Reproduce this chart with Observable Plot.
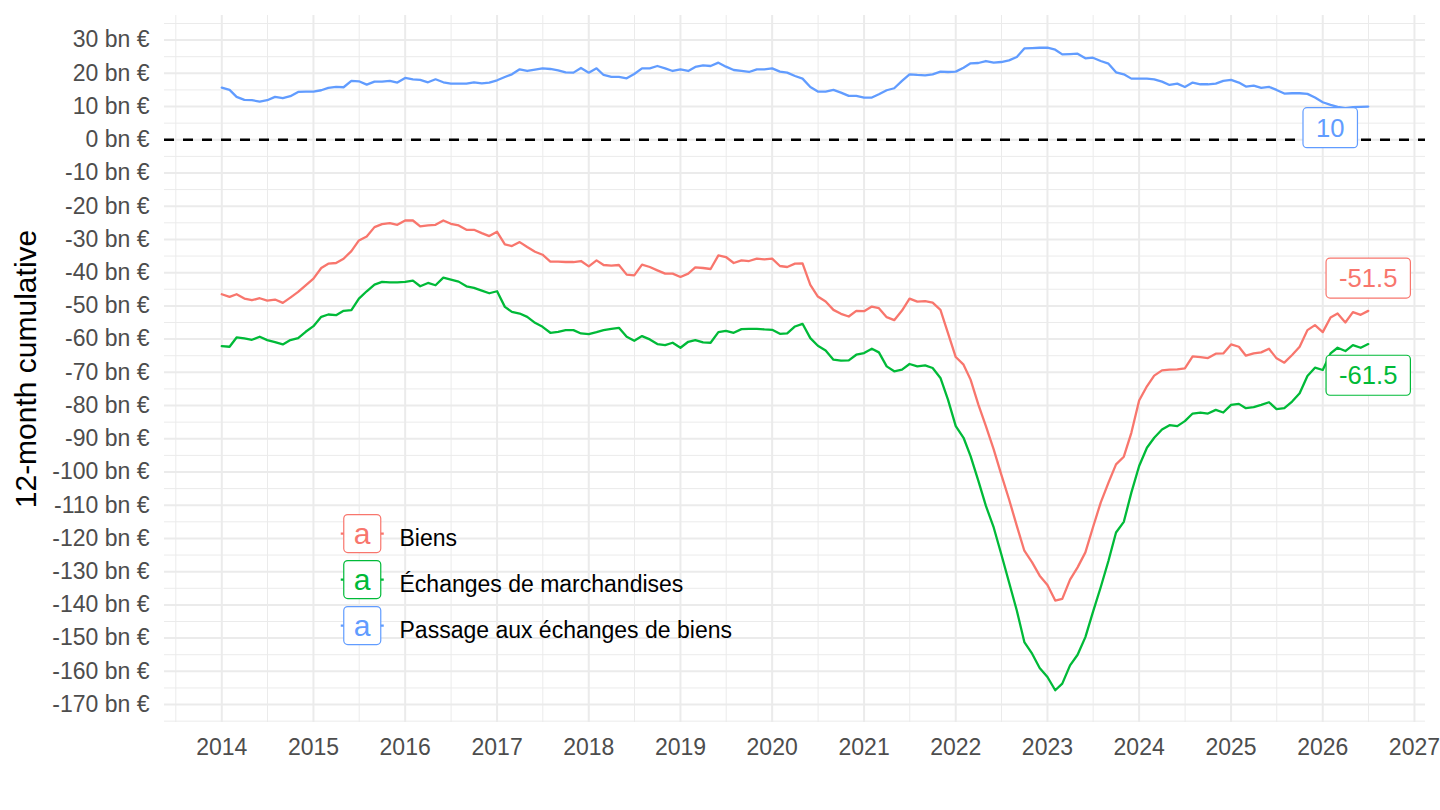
<!DOCTYPE html>
<html><head><meta charset="utf-8">
<script src="https://cdn.jsdelivr.net/npm/d3@7"></script>
<script src="https://cdn.jsdelivr.net/npm/@observablehq/plot@0.6"></script>
<style>body{margin:0;background:#fff} #chart svg{display:block}</style>
</head><body><div id="chart"></div>
<script>
// ---------- DATA ----------
const seriesNames = ["Biens", "Échanges de marchandises", "Passage aux échanges de biens"];
const seriesColors = ["#F8766D", "#00BA38", "#619CFF"];
const firstMonth = "2014-01-01";
const lastMonth = "2026-07-01";

const biens = [
  -46.5, -47.3, -46.5, -47.8, -48.3, -47.7, -48.4, -48.1, -49.1, -47.5, -45.8, -43.8,
  -41.8, -38.6, -37.3, -37.1, -35.8, -33.5, -30.3, -29.1, -26.3, -25.4, -25.1, -25.6,
  -24.3, -24.3, -26.1, -25.8, -25.6, -24.3, -25.3, -25.8, -27.1, -27.1, -28.1, -29.0,
  -27.7, -31.5, -32.0, -30.8, -32.3, -33.7, -34.6, -36.7, -36.7, -36.8, -36.8, -36.5,
  -38.1, -36.3, -37.7, -37.9, -37.7, -40.6, -40.8, -37.6, -38.3, -39.3, -40.3, -40.3,
  -41.3, -40.3, -38.4, -38.6, -38.9, -34.8, -35.3, -37.1, -36.3, -36.5, -35.8, -36.0,
  -35.8, -38.0, -38.3, -37.3, -37.2, -43.7, -47.2, -48.7, -51.2, -52.4, -53.2, -51.5,
  -51.6, -50.2, -50.7, -53.4, -54.3, -51.4, -47.8, -48.7, -48.6, -49.0, -51.2, -58.2,
  -65.4, -67.7, -72.2, -79.7, -86.2, -93.2, -100.7, -108.2, -116.2, -123.7, -127.2, -131.2,
  -134.0, -138.7, -138.2, -132.4, -128.7, -124.2, -116.7, -109.2, -103.2, -97.7, -95.4, -88.2,
  -78.5, -74.2, -71.0, -69.4, -69.2, -69.1, -68.8, -65.2, -65.4, -65.7, -64.4, -64.3,
  -61.6, -62.3, -65.0, -64.3, -64.0, -62.9, -65.8, -67.1, -64.8, -62.3, -57.3, -55.8,
  -57.9, -53.5, -52.3, -55.0, -51.9, -52.7, -51.5
];
const marchandises = [
  -62.1, -62.3, -59.5, -59.8, -60.2, -59.3, -60.3, -60.9, -61.6, -60.3, -59.7, -57.8,
  -56.1, -53.3, -52.6, -52.8, -51.5, -51.3, -47.8, -45.6, -43.6, -42.8, -42.9, -42.9,
  -42.8, -42.4, -44.1, -43.1, -43.8, -41.5, -42.1, -42.7, -44.1, -44.6, -45.4, -46.2,
  -45.6, -50.3, -51.8, -52.3, -53.3, -55.1, -56.3, -58.1, -57.8, -57.3, -57.3, -58.3,
  -58.5, -57.9, -57.3, -56.9, -56.6, -59.3, -60.5, -59.1, -60.1, -61.5, -61.8, -61.1,
  -62.6, -60.8, -60.3, -61.0, -61.1, -57.9, -57.5, -58.1, -57.0, -56.9, -56.9, -57.1,
  -57.2, -58.4, -58.3, -56.2, -55.4, -59.7, -62.0, -63.4, -66.2, -66.5, -66.4, -64.7,
  -64.2, -62.9, -64.0, -68.2, -69.7, -69.2, -67.5, -68.2, -67.9, -68.7, -71.7, -78.2,
  -86.2, -89.7, -95.2, -102.7, -110.2, -116.7, -124.7, -133.2, -141.7, -151.2, -154.7, -159.0,
  -161.7, -165.7, -163.7, -158.2, -155.0, -149.7, -142.2, -134.7, -126.7, -118.2, -115.0, -106.2,
  -98.2, -92.7, -89.7, -87.2, -85.9, -86.2, -84.7, -82.4, -82.1, -82.4, -81.3, -82.1,
  -79.8, -79.5, -80.8, -80.5, -79.8, -79.0, -81.1, -80.8, -78.8, -76.3, -71.1, -68.6,
  -69.3, -64.3, -62.6, -63.6, -61.8, -62.6, -61.5
];
const passage = [
  15.7, 15.0, 12.9, 12.0, 11.9, 11.5, 11.9, 12.9, 12.5, 13.1, 14.4, 14.5,
  14.5, 14.9, 15.6, 15.9, 15.8, 17.7, 17.6, 16.6, 17.5, 17.5, 17.7, 17.2,
  18.6, 18.2, 18.0, 17.3, 18.2, 17.3, 16.9, 16.9, 16.9, 17.3, 17.0, 17.2,
  17.9, 18.9, 19.7, 21.2, 20.7, 21.1, 21.5, 21.3, 20.9, 20.3, 20.2, 21.6,
  20.2, 21.5, 19.5, 18.9, 18.9, 18.5, 19.8, 21.5, 21.5, 22.2, 21.5, 20.7,
  21.2, 20.7, 21.9, 22.4, 22.2, 23.2, 22.0, 21.0, 20.7, 20.4, 21.2, 21.2,
  21.5, 20.5, 20.2, 19.2, 18.4, 15.9, 14.5, 14.5, 15.0, 14.2, 13.2, 13.2,
  12.7, 12.7, 13.7, 14.9, 15.5, 17.7, 19.7, 19.5, 19.4, 19.7, 20.5, 20.4,
  20.5, 21.7, 23.0, 23.1, 23.7, 23.2, 23.4, 23.9, 24.9, 27.5, 27.6, 27.7,
  27.7, 27.1, 25.7, 25.8, 25.9, 24.5, 24.7, 23.7, 22.9, 20.3, 19.7, 18.4,
  18.4, 18.4, 18.2, 17.5, 16.5, 16.9, 15.9, 17.2, 16.7, 16.7, 16.9, 17.7,
  18.0, 17.2, 16.0, 16.3, 15.6, 15.9, 15.0, 13.9, 14.0, 14.0, 13.8, 12.7,
  11.3, 10.5, 9.9, 9.5, 9.8, 9.9, 10.0
];

const yTicks = [-170, -160, -150, -140, -130, -120, -110, -100, -90, -80, -70, -60, -50, -40, -30, -20, -10, 0, 10, 20, 30];
const yMinorTicks = [-175, -165, -155, -145, -135, -125, -115, -105, -95, -85, -75, -65, -55, -45, -35, -25, -15, -5, 5, 15, 25, 35];
const xTickYears = [2014, 2015, 2016, 2017, 2018, 2019, 2020, 2021, 2022, 2023, 2024, 2025, 2026, 2027];
const xMinorYears = [2013, 2014, 2015, 2016, 2017, 2018, 2019, 2020, 2021, 2022, 2023, 2024, 2025, 2026];
const yTitle = "12-month cumulative";
const yUnit = "bn €";

// ---------- BUILD ----------
const months = d3.utcMonth.range(new Date(firstMonth), d3.utcMonth.offset(new Date(lastMonth), 1));
const seriesValues = [biens, marchandises, passage];
const rows = seriesNames.flatMap((s, k) => seriesValues[k].map((v, i) => ({date: months[i], value: v, series: s})));
const lastRows = seriesNames.map((s, k) => ({date: months[months.length - 1], value: seriesValues[k][seriesValues[k].length - 1], series: s}));

const xMajor = xTickYears.map(y => new Date(Date.UTC(y, 0, 1)));
const xMinor = xMinorYears.map(y => new Date(Date.UTC(y, 6, 2)));
const xDomain = [new Date(Date.UTC(2013, 4, 18)), new Date(Date.UTC(2027, 1, 14))];

const FONT = "'Liberation Sans', Arial, Helvetica, sans-serif";
const labelOffsets = [{dx: 0, dy: -32}, {dx: 0, dy: 32}, {dx: -38, dy: 22}];

const marks = [
  Plot.ruleY(yMinorTicks, {stroke: "#ebebeb", strokeWidth: 1}),
  Plot.ruleX(xMinor, {stroke: "#ebebeb", strokeWidth: 1}),
  Plot.ruleY(yTicks, {stroke: "#ebebeb", strokeWidth: 2}),
  Plot.ruleX(xMajor, {stroke: "#ebebeb", strokeWidth: 2}),
  Plot.ruleY([0], {stroke: "#000", strokeWidth: 2.5, strokeDasharray: "10,9"}),
  Plot.line(rows, {x: "date", y: "value", z: "series", stroke: "series", strokeWidth: 2.3})
];
seriesNames.forEach((s, k) => {
  marks.push(Plot.text([lastRows[k]], {
    x: "date", y: "value", text: d => String(d.value),
    fill: seriesColors[k], fontSize: 25.6, dx: labelOffsets[k].dx, dy: labelOffsets[k].dy,
    textAnchor: "middle", lineAnchor: "middle",
    ariaDescription: "endlabel"
  }));
  marks.push(Plot.text(["a"], {
    text: d => d, frameAnchor: "top-left", dx: 197.6, dy: 534 - 15 + k * 46,
    textAnchor: "middle", lineAnchor: "middle",
    fill: seriesColors[k], fontSize: 30, ariaDescription: "legendkey"
  }));
  marks.push(Plot.text([s], {
    text: d => d, frameAnchor: "top-left", dx: 235, dy: 538 - 15 + k * 46,
    textAnchor: "start", lineAnchor: "middle", fill: "#000", fontSize: 23
  }));
});
marks.push(Plot.text([yTitle], {
  text: d => d, frameAnchor: "left", rotate: -90, dx: -138,
  textAnchor: "middle", lineAnchor: "middle", fill: "#000", fontSize: 30
}));

const plot = Plot.plot({
  width: 1440, height: 810,
  marginLeft: 164, marginRight: 15, marginTop: 15, marginBottom: 88,
  style: {fontFamily: FONT, fontSize: "23px", color: "#4d4d4d", background: "#fff"},
  x: {type: "utc", domain: xDomain, ticks: xMajor, tickFormat: d3.utcFormat("%Y"), tickSize: 0, tickPadding: 16, label: null},
  y: {domain: [-175.4, 37.4], ticks: yTicks, tickFormat: d => `${d} ${yUnit}`, tickSize: 0, tickPadding: 15, label: null},
  color: {domain: seriesNames, range: seriesColors},
  marks
});
document.getElementById("chart").appendChild(plot);

// ---------- label boxes (ggplot geom_label look) ----------
const NS = "http://www.w3.org/2000/svg";
function boxify(name, padX, h, stub) {
  const groups = Array.from(plot.querySelectorAll("g")).filter(g => g.getAttribute("aria-description") === name);
  groups.forEach(g => g.querySelectorAll("text").forEach(t => {
    const bb = t.getBBox();
    const col = getComputedStyle(t).fill;
    const cy = bb.y + bb.height / 2;
    const tr = t.getAttribute("transform");
    if (stub) {
      const ln = document.createElementNS(NS, "line");
      ln.setAttribute("x1", bb.x - padX - 3); ln.setAttribute("x2", bb.x + bb.width + padX + 3);
      ln.setAttribute("y1", cy); ln.setAttribute("y2", cy);
      ln.setAttribute("stroke", col); ln.setAttribute("stroke-width", 2.3);
      if (tr) ln.setAttribute("transform", tr);
      t.parentNode.insertBefore(ln, t);
    }
    const r = document.createElementNS(NS, "rect");
    r.setAttribute("x", bb.x - padX); r.setAttribute("y", cy - h / 2);
    r.setAttribute("width", bb.width + 2 * padX); r.setAttribute("height", h);
    r.setAttribute("rx", 4); r.setAttribute("fill", "#fff");
    r.setAttribute("stroke", col); r.setAttribute("stroke-width", 1.2);
    if (tr) r.setAttribute("transform", tr);
    t.parentNode.insertBefore(r, t);
  }));
}
boxify("endlabel", 13, 40, false);
boxify("legendkey", 10, 38, true);
</script>
</body></html>
